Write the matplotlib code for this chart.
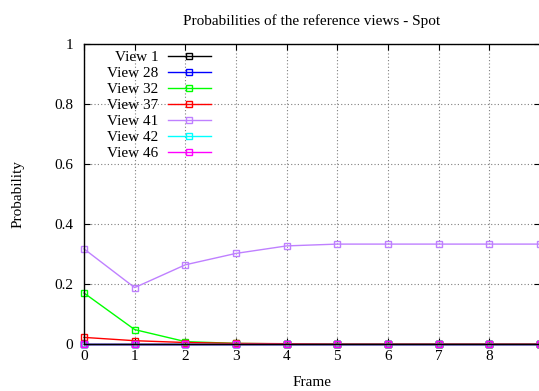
import numpy as np
import matplotlib
matplotlib.use('Agg')
from matplotlib import pyplot as plt

plt.rcParams['font.family'] = ['Liberation Serif', 'DejaVu Serif']
plt.rcParams['font.size'] = 11

frames = [0, 1, 2, 3, 4, 5, 6, 7, 8, 9]
view_names = ['View 1', 'View 28', 'View 32', 'View 37', 'View 41', 'View 42', 'View 46']
view_colors = ['#000000', '#0000ff', '#00ff00', '#ff0000', '#bf80ff', '#00ffff', '#ff00ff']

view_1 = [0.0, 0.0, 0.0, 0.0, 0.0, 0.0, 0.0, 0.0, 0.0, 0.0]
view_28 = [0.0, 0.0, 0.0, 0.0, 0.0, 0.0, 0.0, 0.0, 0.0, 0.0]
view_32 = [0.17, 0.048, 0.008, 0.002, 0.0005, 0.0, 0.0, 0.0, 0.0, 0.0]
view_37 = [0.022, 0.011, 0.005, 0.002, 0.001, 0.0, 0.0, 0.0, 0.0, 0.0]
view_41 = [0.317, 0.188, 0.264, 0.302, 0.327, 0.333, 0.333, 0.333, 0.333, 0.333]
view_42 = [0.0, 0.0, 0.0, 0.0, 0.0, 0.0, 0.0, 0.0, 0.0, 0.0]
view_46 = [0.0, 0.0, 0.0, 0.0, 0.0, 0.0, 0.0, 0.0, 0.0, 0.0]

series = [view_1, view_28, view_32, view_37, view_41, view_42, view_46]

fig = plt.figure(figsize=(5.39, 3.91), dpi=100)
ax = fig.add_axes([84 / 539, 1 - 344 / 391, 456 / 539, 300 / 391])

for name, color, vals in zip(view_names, view_colors, series):
    ax.plot(frames, vals, color=color, lw=1, marker='s', markersize=5,
            markerfacecolor='none', markeredgecolor=color, markeredgewidth=1,
            label=name, clip_on=False)

ax.set_xlim(0, 9)
ax.set_ylim(0, 1)
ax.set_xticks(range(0, 9))
ax.set_yticks([0, 0.2, 0.4, 0.6, 0.8, 1])
ax.set_yticklabels(['0', '0.2', '0.4', '0.6', '0.8', '1'])
ax.tick_params(direction='in', top=True, right=True, length=4, width=0.8)
ax.tick_params(axis='y', pad=8)
ax.tick_params(axis='x', pad=4)
ax.grid(True, color='#808080', linestyle=(0, (1, 2)), lw=0.8)
for s in ax.spines.values():
    s.set_linewidth(1)

ax.set_title('Probabilities of the reference views - Spot', fontsize=11, pad=14)
ax.set_xlabel('Frame', labelpad=10)
ax.set_ylabel('Probability', labelpad=21)

ax.legend(loc='upper left', bbox_to_anchor=(0.028, 1.013), frameon=False,
          markerfirst=False, alignment='right', handlelength=2.8,
          labelspacing=0.15, handletextpad=0.6, borderaxespad=0.3)

plt.savefig('out.png', dpi=100)
